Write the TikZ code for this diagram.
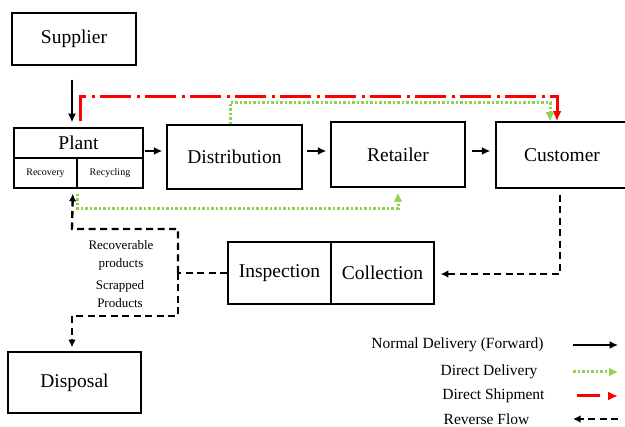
\documentclass[tikz,border=0pt]{standalone}
\usepackage{fontspec}
\setmainfont{Liberation Serif}
\usepackage{tikz}
\usetikzlibrary{arrows.meta}
\pgfdeclarelayer{edgelayer}
\pgfdeclarelayer{nodelayer}
\pgfsetlayers{edgelayer,nodelayer,main}
\definecolor{deliverygreen}{RGB}{146,208,80}
\definecolor{shipmentred}{RGB}{255,0,0}
\tikzstyle{block}=[rectangle,draw=black,fill=white,line width=1.5pt,inner sep=0pt,font=\fontsize{19.5}{22}\selectfont]
\tikzstyle{subblock}=[block,font=\fontsize{10}{12}\selectfont]
\tikzstyle{note}=[align=center,inner sep=0pt,font=\fontsize{13}{18}\selectfont]
\tikzstyle{legend}=[inner sep=0pt,font=\fontsize{15.5}{18}\selectfont]
\tikzstyle{forward}=[-{Latex[length=8.5pt,width=8pt]},draw=black,line width=1.5pt]
\tikzstyle{delivery}=[-{Latex[length=9pt,width=9pt]},draw=deliverygreen,line width=3pt,dash pattern=on 2.5pt off 2pt]
\tikzstyle{shipment}=[-{Latex[length=10pt,width=9pt]},draw=shipmentred,line width=3pt,dash pattern=on 31pt off 6pt on 3pt off 5pt]
\tikzstyle{reverse}=[-{Latex[length=7.5pt,width=7.5pt]},draw=black,line width=2.4pt,dash pattern=on 7pt off 4.5pt]
\tikzstyle{plain}=[draw=black,line width=2.4pt,dash pattern=on 7pt off 4.5pt]

\begin{document}
\begin{tikzpicture}[x=1pt,y=-1pt]
	\useasboundingbox (0,0) rectangle (625,427);
	\begin{pgfonlayer}{nodelayer}
		\node [style=block, minimum width=124pt, minimum height=52pt] (supplier) at (74, 39) {Supplier};
		\node [style=block, minimum width=129pt, minimum height=30pt] (plant) at (78.5, 143) {Plant};
		\node [style=subblock, minimum width=63pt, minimum height=30pt] (recovery) at (45.5, 173) {Recovery};
		\node [style=subblock, minimum width=66pt, minimum height=30pt] (recycling) at (110, 173) {Recycling};
		\node [style=block, minimum width=135pt, minimum height=64pt] (dist) at (234.5, 157) {Distribution};
		\node [style=block, minimum width=134pt, minimum height=65pt] (ret) at (398, 154.5) {Retailer};
		\node [style=block, minimum width=132pt, minimum height=66pt] (cust) at (562, 155) {Customer};
		\node [style=block, minimum width=103pt, minimum height=62pt] (insp) at (279.5, 273) {Inspection};
		\node [style=block, minimum width=103pt, minimum height=62pt] (coll) at (382.5, 273) {Collection};
		\node [style=block, minimum width=133pt, minimum height=61pt] (disposal) at (74.5, 382.5) {Disposal};
		\node [style=note] (recov) at (121, 255) {Recoverable\\products};
		\node [style=note] (scrap) at (120, 294) {Scrapped\\Products};
		\node [style=legend] (lgforward) at (457.5, 345) {Normal Delivery (Forward)};
		\node [style=legend] (lgdelivery) at (489, 372) {Direct Delivery};
		\node [style=legend] (lgshipment) at (493.5, 396) {Direct Shipment};
		\node [style=legend] (lgreverse) at (486.5, 419) {Reverse Flow};
	\end{pgfonlayer}
	\begin{pgfonlayer}{edgelayer}
		\coordinate (fork) at (178, 273);
		\coordinate (recbend) at (72, 229);
		\coordinate (dispbend) at (72, 316);
		\draw [style=forward] ([xshift=-2pt,yshift=-14pt]supplier.south) -- ([xshift=-6.5pt,yshift=5pt]plant.north);
		\draw [style=forward] ([xshift=1pt,yshift=-8pt]plant.east) -- ([xshift=-4pt,yshift=6pt]dist.west);
		\draw [style=forward] ([xshift=4pt,yshift=6pt]dist.east) -- ([xshift=-4pt,yshift=3.5pt]ret.west);
		\draw [style=forward] ([xshift=6pt,yshift=3.5pt]ret.east) -- ([xshift=-5pt,yshift=4pt]cust.west);
		\draw [style=shipment] ([xshift=1.5pt,yshift=6pt]plant.north) -- ++(0,-25) -| ([xshift=-5pt]cust.north);
		\draw [style=delivery] ([xshift=-4.5pt]dist.north) -- ++(0,-22) -| ([xshift=-12pt]cust.north);
		\draw [style=delivery] ([yshift=-5pt]recovery.south east) -- ++(0,15) -| ([yshift=-5pt]ret.south);
		\draw [style=reverse] ([xshift=-2pt,yshift=-6pt]cust.south) |- ([xshift=6pt,yshift=-1pt]coll.east);
		\draw [style=plain] (insp.west) -- (fork);
		\draw [style=reverse] (fork) |- (recbend) -- ([xshift=-5pt,yshift=-5pt]recovery.south east);
		\draw [style=reverse] (fork) |- (dispbend) -- ([yshift=4pt]disposal.north -| dispbend);
		% legend
		\coordinate (fwdA) at (573, 345);
		\coordinate (fwdB) at (618, 345);
		\coordinate (delA) at (573, 372);
		\coordinate (delB) at (618, 372);
		\coordinate (shpA) at (577, 396);
		\coordinate (shpB) at (618, 396);
		\coordinate (revA) at (618, 419);
		\coordinate (revB) at (573, 419);
		\draw [style=forward] (fwdA) -- (fwdB);
		\draw [style=delivery] (delA) -- (delB);
		\draw [style=shipment, dash pattern=on 23pt off 10pt] (shpA) -- (shpB);
		\draw [style=reverse] (revA) -- (revB);
	\end{pgfonlayer}
\end{tikzpicture}
\end{document}
